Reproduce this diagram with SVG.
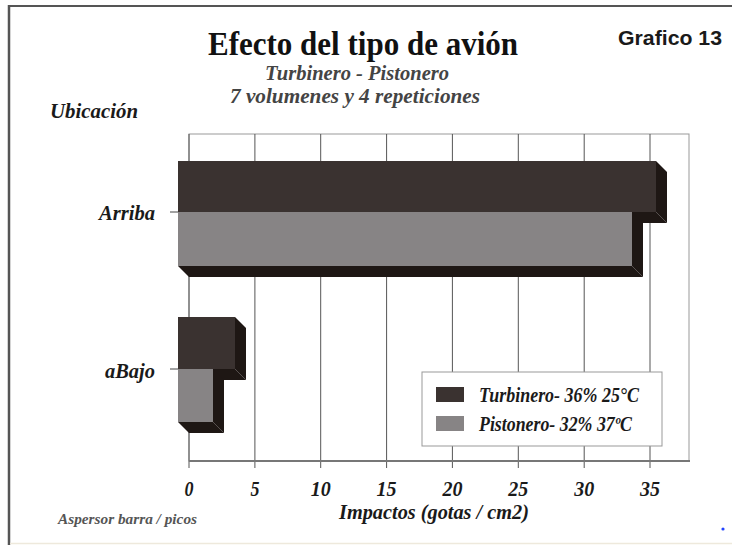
<svg xmlns="http://www.w3.org/2000/svg" width="732" height="545" viewBox="0 0 732 545">
<style>
.serif{font-family:"Liberation Serif","Times New Roman",serif;}
.bi{font-family:"Liberation Serif","Times New Roman",serif;font-weight:bold;font-style:italic;fill:#1a1a1a;}
.grid{stroke:#555;stroke-width:1;fill:none;}
.frame{stroke:#999;stroke-width:1;fill:none;}
.dk{fill:#3a3230;}
.gr{fill:#878485;}
.sh{fill:#1e1714;}
.num{font-size:22px;text-anchor:middle;}
</style>
<rect width="732" height="545" fill="#fff"/>
<g id="frame">
<line x1="8" y1="6" x2="732" y2="6" stroke="#555" stroke-width="2"/>
<line x1="9" y1="5" x2="9" y2="545" stroke="#555" stroke-width="2.5"/>
<line x1="10" y1="543.5" x2="732" y2="543.5" stroke="#eee9dc" stroke-width="1.5"/>
</g>
<g id="titles">
<text class="serif" x="363" y="55" font-size="33" font-weight="bold" fill="#111" text-anchor="middle" textLength="310" lengthAdjust="spacingAndGlyphs">Efecto del tipo de avión</text>
<text class="bi" x="357" y="80" font-size="20" style="fill:#444" text-anchor="middle" textLength="184" lengthAdjust="spacingAndGlyphs">Turbinero - Pistonero</text>
<text class="bi" x="355" y="103" font-size="20" style="fill:#444" text-anchor="middle" textLength="250" lengthAdjust="spacingAndGlyphs">7 volumenes y 4 repeticiones</text>
<text x="670" y="45" font-family="Liberation Sans, Arial, sans-serif" font-size="21" font-weight="bold" fill="#1a1a1a" text-anchor="middle" textLength="104" lengthAdjust="spacingAndGlyphs">Grafico 13</text>
<text class="bi" x="50" y="118" font-size="22" textLength="88" lengthAdjust="spacingAndGlyphs">Ubicación</text>
</g>
<g id="plot">
<rect class="frame" x="189" y="134" width="500" height="327"/>
<g class="grid">
<line x1="189" y1="134" x2="189" y2="468"/>
<line x1="254.9" y1="134" x2="254.9" y2="468"/>
<line x1="320.7" y1="134" x2="320.7" y2="468"/>
<line x1="386.6" y1="134" x2="386.6" y2="468"/>
<line x1="452.4" y1="134" x2="452.4" y2="468"/>
<line x1="518.3" y1="134" x2="518.3" y2="468"/>
<line x1="584.2" y1="134" x2="584.2" y2="468"/>
<line x1="650" y1="134" x2="650" y2="468"/>
</g>
<line x1="189" y1="461" x2="690" y2="461" stroke="#777" stroke-width="2"/>
<line x1="170" y1="212" x2="180" y2="212" stroke="#444" stroke-width="1"/>
<line x1="170" y1="369" x2="180" y2="369" stroke="#444" stroke-width="1"/>
</g>
<g id="bar-arriba">
<polygon class="sh" points="656,161 667,172 667,223 656,212"/>
<polygon class="sh" points="178,212 656,212 667,223 189,223"/>
<rect class="dk" x="178" y="161" width="478" height="51"/>
<polygon class="sh" points="632,212 643,223 643,277 632,266"/>
<polygon class="sh" points="178,266 632,266 643,277 189,277"/>
<rect class="gr" x="178" y="212" width="454" height="54"/>
</g>
<g id="bar-abajo">
<polygon class="sh" points="235,317 246,328 246,380 235,369"/>
<polygon class="sh" points="178,369 235,369 246,380 189,380"/>
<rect class="dk" x="178" y="317" width="57" height="52"/>
<polygon class="sh" points="213,369 224,380 224,433 213,422"/>
<polygon class="sh" points="178,422 213,422 224,433 189,433"/>
<rect class="gr" x="178" y="369" width="35" height="53"/>
</g>
<g id="legend">
<rect x="422" y="372" width="240" height="74" fill="#fff" stroke="#999" stroke-width="1"/>
<rect class="dk" x="436" y="387" width="28" height="15"/>
<rect class="gr" x="436" y="416" width="28" height="15"/>
<text class="bi" x="479" y="402" font-size="20" textLength="160" lengthAdjust="spacingAndGlyphs">Turbinero- 36% 25°C</text>
<text class="bi" x="479" y="431" font-size="20" textLength="153" lengthAdjust="spacingAndGlyphs">Pistonero- 32% 37ºC</text>
</g>
<g id="labels">
<text class="bi" x="155" y="220" font-size="21" text-anchor="end" textLength="56" lengthAdjust="spacingAndGlyphs">Arriba</text>
<text class="bi" x="155" y="378" font-size="21" text-anchor="end" textLength="50" lengthAdjust="spacingAndGlyphs">aBajo</text>
<text class="bi num" x="189" y="496" textLength="9" lengthAdjust="spacingAndGlyphs">0</text>
<text class="bi num" x="254.9" y="496" textLength="9" lengthAdjust="spacingAndGlyphs">5</text>
<text class="bi num" x="320.7" y="496" textLength="20" lengthAdjust="spacingAndGlyphs">10</text>
<text class="bi num" x="386.6" y="496" textLength="20" lengthAdjust="spacingAndGlyphs">15</text>
<text class="bi num" x="452.4" y="496" textLength="20" lengthAdjust="spacingAndGlyphs">20</text>
<text class="bi num" x="518.3" y="496" textLength="20" lengthAdjust="spacingAndGlyphs">25</text>
<text class="bi num" x="584.2" y="496" textLength="20" lengthAdjust="spacingAndGlyphs">30</text>
<text class="bi num" x="650" y="496" textLength="20" lengthAdjust="spacingAndGlyphs">35</text>
<text class="bi" x="434" y="519" font-size="22" text-anchor="middle" textLength="190" lengthAdjust="spacingAndGlyphs">Impactos (gotas / cm2)</text>
<text class="bi" x="58" y="524" font-size="15" style="fill:#555" textLength="139" lengthAdjust="spacingAndGlyphs">Aspersor barra / picos</text>
</g>
<circle cx="723" cy="529" r="1.6" fill="#2244ff"/>
</svg>
